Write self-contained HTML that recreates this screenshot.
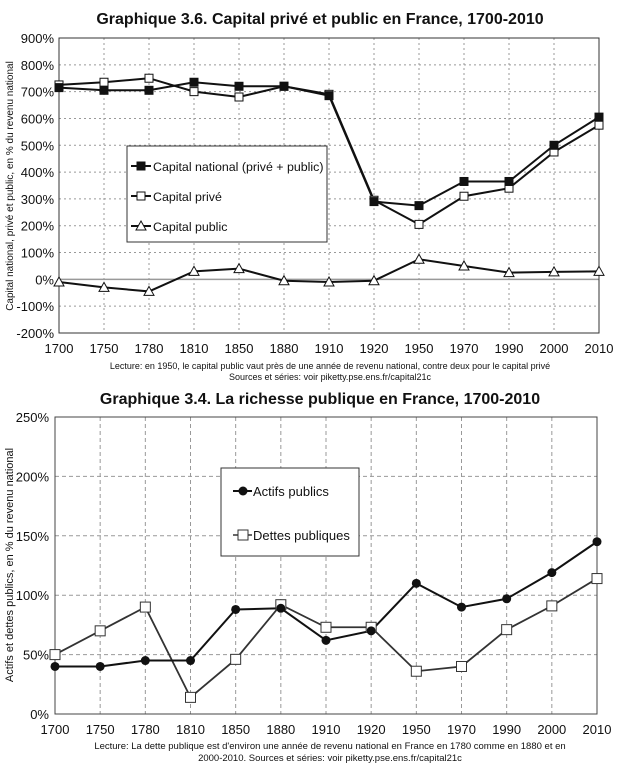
<!DOCTYPE html>
<html><head><meta charset="utf-8"><style>
body{margin:0;background:#fff;}
svg{display:block;font-family:"Liberation Sans",sans-serif;}
</style></head><body>
<svg id="s" width="620" height="766" xmlns="http://www.w3.org/2000/svg"></svg>
<script>
const s=document.getElementById('s');let h='';
const yrs=[1700,1750,1780,1810,1850,1880,1910,1920,1950,1970,1990,2000,2010];
h+=`<text x="320" y="24" font-size="16" font-weight="bold" text-anchor="middle" fill="#111">Graphique 3.6. Capital privé et public en France, 1700-2010</text>`;
let L=59,R=599,T=38,B=333;const X=i=>L+i*(R-L)/12;const Y=v=>T+(900-v)*(B-T)/1100;
for(let v=-200;v<=900;v+=100){const y=Y(v);
 if(v!=0&&v!=900&&v!=-200)h+=`<line x1="${L}" y1="${y}" x2="${R}" y2="${y}" stroke="#999" stroke-dasharray="2,3"/>`;
 h+=`<text x="${L-5}" y="${y+5}" font-size="13" text-anchor="end" fill="#111">${v}%</text>`;}
h+=`<line x1="${L}" y1="${Y(0)}" x2="${R}" y2="${Y(0)}" stroke="#999" stroke-width="1.5"/>`;
yrs.forEach((yr,i)=>{const x=X(i);if(i>0&&i<12)h+=`<line x1="${x}" y1="${T}" x2="${x}" y2="${B}" stroke="#999" stroke-dasharray="2,3"/>`;
 h+=`<text x="${x}" y="${B+20}" font-size="13" text-anchor="middle" fill="#111">${yr}</text>`;});
h+=`<rect x="${L}" y="${T}" width="${R-L}" height="${B-T}" fill="none" stroke="#333"/>`;
const nat=[715,705,705,735,720,720,685,290,275,365,365,500,605];
const pri=[725,735,750,700,680,720,690,295,205,310,340,475,575];
const pub=[-10,-30,-45,30,40,-5,-10,-5,75,50,25,28,30];
const line=(d,Yf,Xf)=>`<polyline fill="none" stroke="#111" stroke-width="2" points="${d.map((v,i)=>Xf(i)+','+Yf(v)).join(' ')}"/>`;
const sq=(x,y,f)=>`<rect x="${x-4}" y="${y-4}" width="8" height="8" fill="${f}" stroke="#111" stroke-width="1"/>`;
const tri=(x,y)=>`<polygon points="${x},${y-5} ${x+5},${y+4} ${x-5},${y+4}" fill="#fff" stroke="#111"/>`;
h+=line(pri,Y,X)+line(nat,Y,X)+line(pub,Y,X);
pri.forEach((v,i)=>h+=sq(X(i),Y(v),'#fff'));nat.forEach((v,i)=>h+=sq(X(i),Y(v),'#111'));pub.forEach((v,i)=>h+=tri(X(i),Y(v)));
h+=`<rect x="127" y="146" width="200" height="96" fill="#fff" stroke="#333"/>`;
[[166,'Capital national (privé + public)',0],[196,'Capital privé',1],[226,'Capital public',2]].forEach(([y,t,k])=>{
 h+=`<line x1="131" y1="${y}" x2="151" y2="${y}" stroke="#111" stroke-width="2"/>`;
 h+=k==0?sq(141,y,'#111'):k==1?sq(141,y,'#fff'):tri(141,y);
 h+=`<text x="153" y="${y+5}" font-size="12.4" fill="#111">${t}</text>`;});
h+=`<text transform="translate(13,186) rotate(-90)" font-size="10" text-anchor="middle" fill="#111">Capital national, privé et public, en % du revenu national</text>`;
h+=`<text x="330" y="369" font-size="9" text-anchor="middle" fill="#111">Lecture: en 1950, le capital public vaut près de une année de revenu national, contre deux pour le capital privé</text>`;
h+=`<text x="330" y="380" font-size="9" text-anchor="middle" fill="#111">Sources et séries: voir piketty.pse.ens.fr/capital21c</text>`;
h+=`<text x="320" y="404" font-size="16" font-weight="bold" text-anchor="middle" fill="#111">Graphique 3.4. La richesse publique en France, 1700-2010</text>`;
L=55;R=597;T=417;B=714;const X2=i=>L+i*(R-L)/12;const Y2=v=>T+(250-v)*(B-T)/250;
for(let v=0;v<=250;v+=50){const y=Y2(v);
 if(v>0&&v<250)h+=`<line x1="${L}" y1="${y}" x2="${R}" y2="${y}" stroke="#999" stroke-dasharray="4,3"/>`;
 h+=`<text x="${L-6}" y="${y+5}" font-size="13" text-anchor="end" fill="#111">${v}%</text>`;}
yrs.forEach((yr,i)=>{const x=X2(i);if(i>0&&i<12)h+=`<line x1="${x}" y1="${T}" x2="${x}" y2="${B}" stroke="#999" stroke-dasharray="4,3"/>`;
 h+=`<text x="${x}" y="${B+20}" font-size="13" text-anchor="middle" fill="#111">${yr}</text>`;});
h+=`<rect x="${L}" y="${T}" width="${R-L}" height="${B-T}" fill="none" stroke="#444"/>`;
const act=[40,40,45,45,88,89,62,70,110,90,97,119,145];
const det=[50,70,90,14,46,92,73,73,36,40,71,91,114];
h+=`<polyline fill="none" stroke="#333" stroke-width="1.8" points="${det.map((v,i)=>X2(i)+','+Y2(v)).join(' ')}"/>`;
h+=line(act,Y2,X2);
det.forEach((v,i)=>h+=`<rect x="${X2(i)-5}" y="${Y2(v)-5}" width="10" height="10" fill="#fff" stroke="#333"/>`);
act.forEach((v,i)=>h+=`<circle cx="${X2(i)}" cy="${Y2(v)}" r="4.5" fill="#111"/>`);
h+=`<rect x="221" y="468" width="138" height="88" fill="#fff" stroke="#333"/>`;
h+=`<line x1="233" y1="491" x2="252" y2="491" stroke="#111" stroke-width="2"/><circle cx="243" cy="491" r="4.5" fill="#111"/><text x="253" y="496" font-size="13" fill="#111">Actifs publics</text>`;
h+=`<line x1="233" y1="535" x2="252" y2="535" stroke="#333" stroke-width="1.5"/><rect x="238" y="530" width="10" height="10" fill="#fff" stroke="#333"/><text x="253" y="540" font-size="13" fill="#111">Dettes publiques</text>`;
h+=`<text transform="translate(13,565) rotate(-90)" font-size="11" text-anchor="middle" fill="#111">Actifs et dettes publics, en % du revenu national</text>`;
h+=`<text x="330" y="749" font-size="9.5" text-anchor="middle" fill="#111">Lecture: La dette publique est d'environ une année de revenu national en France en 1780 comme en 1880 et en</text>`;
h+=`<text x="330" y="761" font-size="9.5" text-anchor="middle" fill="#111">2000-2010. Sources et séries: voir piketty.pse.ens.fr/capital21c</text>`;
s.innerHTML=h;
</script>
</body></html>
